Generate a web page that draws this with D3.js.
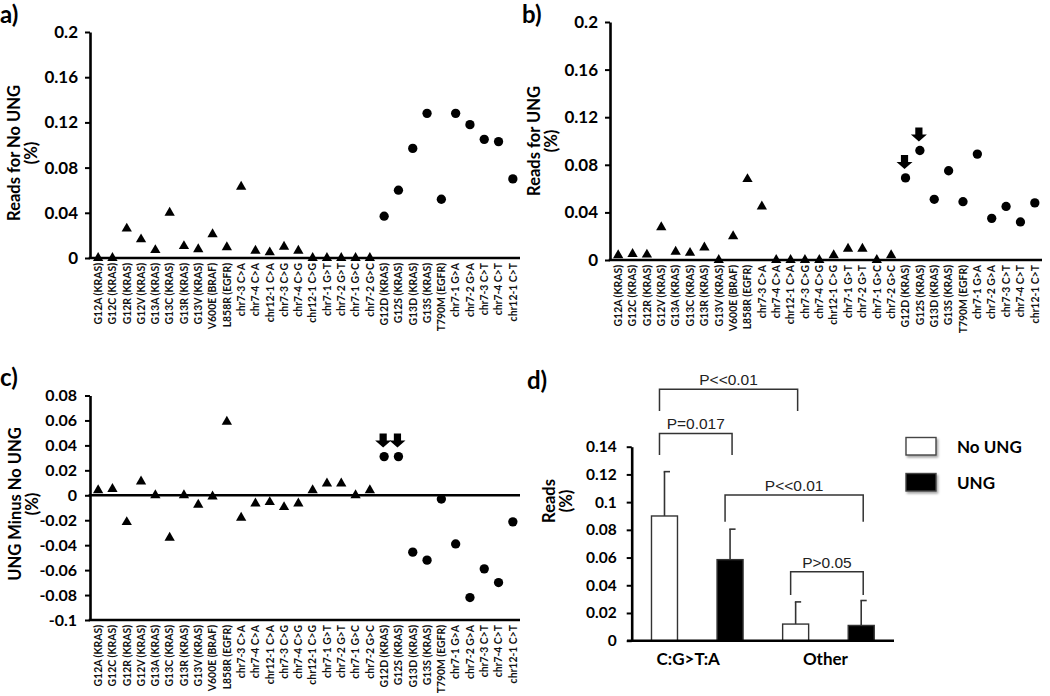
<!DOCTYPE html>
<html><head><meta charset="utf-8">
<script src="https://cdn.jsdelivr.net/npm/d3@7"></script>
<style>
body{margin:0;background:#fff;}
svg{display:block;}
</style></head><body>
<svg id="c" width="1050" height="696"></svg>
<script>
// ---------------- DATA ----------------
const categories = ["G12A (KRAS)","G12C (KRAS)","G12R (KRAS)","G12V (KRAS)","G13A (KRAS)","G13C (KRAS)","G13R (KRAS)","G13V (KRAS)","V600E (BRAF)","L858R (EGFR)","chr7-3 C>A","chr7-4 C>A","chr12-1 C>A","chr7-3 C>G","chr7-4 C>G","chr12-1 C>G","chr7-1 G>T","chr7-2 G>T","chr7-1 G>C","chr7-2 G>C","G12D (KRAS)","G12S (KRAS)","G13D (KRAS)","G13S (KRAS)","T790M (EGFR)","chr7-1 G>A","chr7-2 G>A","chr7-3 C>T","chr7-4 C>T","chr12-1 C>T"];
// C:G>T:A mutations (drawn as circles); all others drawn as triangles
const cgtaCategories = ["G12D (KRAS)","G12S (KRAS)","G13D (KRAS)","G13S (KRAS)","T790M (EGFR)","chr7-1 G>A","chr7-2 G>A","chr7-3 C>T","chr7-4 C>T","chr12-1 C>T"];
const arrowCategories = ["G12D (KRAS)","G12S (KRAS)"];

const readsNoUNG = [0,0,0.026,0.0165,0.007,0.040,0.0105,0.0078,0.021,0.0095,0.063,0.0065,0.005,0.010,0.0065,0,0,0,0,0,0.037,0.060,0.097,0.128,0.052,0.128,0.118,0.105,0.103,0.070];
const readsUNG   = [0.004,0.005,0.0045,0.0275,0.007,0.006,0.0105,0,0.020,0.068,0.045,0,0,0,0,0.004,0.0095,0.0095,0,0.004,0.069,0.092,0.051,0.075,0.049,0.089,0.035,0.045,0.032,0.048];
const readsDiff  = [0.004,0.005,-0.0215,0.011,0,-0.034,0,-0.0076,-0.001,0.059,-0.018,-0.0066,-0.0055,-0.0095,-0.0066,0.004,0.0095,0.0095,0,0.004,0.031,0.031,-0.0456,-0.052,-0.003,-0.039,-0.082,-0.059,-0.070,-0.0213];

const ticksAB = [0,0.04,0.08,0.12,0.16,0.2];
const ticksC  = [-0.1,-0.08,-0.06,-0.04,-0.02,0,0.02,0.04,0.06,0.08];
const ticksD  = [0,0.02,0.04,0.06,0.08,0.1,0.12,0.14];

const groupsD  = ["C:G>T:A","Other"];
const seriesD  = ["No UNG","UNG"];
const meanNoUNG = [0.090,0.012];
const sdNoUNG   = [0.032,0.016];
const meanUNG   = [0.0585,0.011];
const sdUNG     = [0.022,0.018];
const brackets = [
  {from:["C:G>T:A","No UNG"], to:["Other","No UNG"], top:0.1814, bottom:0.1657, label:"P<<0.01"},
  {from:["C:G>T:A","No UNG"], to:["C:G>T:A","UNG"], top:0.1496, bottom:0.134, label:"P=0.017"},
  {from:["C:G>T:A","UNG"], to:["Other","UNG"], top:0.1051, bottom:0.0859, label:"P<<0.01"},
  {from:["Other","No UNG"], to:["Other","UNG"], top:0.0498, bottom:0.033, label:"P>0.05"}
];

// ---------------- DRAW ----------------
const FONT = "Lato, 'Open Sans', sans-serif";
const svg = d3.select("#c");
const fmt = d => String(+d.toFixed(2));

function arrowPath(cx, tipY){
  const sh=3.6, shH=7, hw=8, hh=7;
  return `M${cx-sh},${tipY-hh-shH} L${cx+sh},${tipY-hh-shH} L${cx+sh},${tipY-hh} L${cx+hw},${tipY-hh} L${cx},${tipY} L${cx-hw},${tipY-hh} L${cx-sh},${tipY-hh} Z`;
}

function scatterPanel(o){
  const g = svg.append("g");
  const x = d3.scalePoint().domain(categories).range([o.x0+1, o.x1]).padding(0.5);
  const y = d3.scaleLinear().domain(o.domain).range([o.yBot, o.yTop]);
  const ya = d3.axisLeft(y).tickValues(o.ticks).tickSize(5).tickSizeOuter(0).tickPadding(o.pad).tickFormat(fmt);
  const yg = g.append("g").attr("transform",`translate(${o.x0},0)`).call(ya);
  yg.select(".domain").attr("stroke","#000").attr("stroke-width",2.6);
  yg.selectAll(".tick line").attr("stroke","#000").attr("stroke-width",2);
  yg.selectAll(".tick text").attr("font-size",o.fs).attr("font-weight","bold").attr("font-family",FONT).attr("fill","#000");
  // horizontal axis lines
  o.hLines.forEach(v=>{
    g.append("line").attr("x1",o.x0-1.3).attr("x2",o.x1).attr("y1",y(v)).attr("y2",y(v))
      .attr("stroke","#000").attr("stroke-width",2.6);
  });
  // category labels
  g.selectAll("text.cat").data(categories).join("text").attr("class","cat")
    .attr("transform",d=>`translate(${x(d)},${y(o.domain[0])+5}) rotate(-90)`)
    .attr("text-anchor","end").attr("dy","0.36em")
    .attr("font-family",FONT).attr("font-weight","bold").attr("font-size",10.4).attr("fill","#111")
    .text(d=>d);
  // markers
  const vals = o.values;
  g.selectAll("path.m").data(categories).join("path").attr("class","m")
    .attr("transform",(d,i)=>`translate(${x(d)},${y(vals[i])})`)
    .attr("d",d=> cgtaCategories.includes(d) ? d3.symbol(d3.symbolCircle,68)() : d3.symbol(d3.symbolTriangle,46)())
    .attr("fill","#000");
  // arrows
  if(o.arrows){
    g.selectAll("path.arr").data(arrowCategories).join("path").attr("class","arr")
      .attr("d",d=>arrowPath(x(d)-1, y(vals[categories.indexOf(d)])-9))
      .attr("fill","#000");
  }
  // title
  const t = g.append("text").attr("transform",`translate(${o.titleX},${o.titleY}) rotate(-90)`)
    .attr("text-anchor","middle").attr("font-family",FONT).attr("font-weight","bold").attr("font-size",16.5).attr("fill","#000");
  t.append("tspan").attr("x",0).attr("y",0).text(o.title);
  t.append("tspan").attr("x",0).attr("y",17).text("(%)");
  // panel label
  svg.append("text").attr("x",o.lx).attr("y",o.ly).attr("font-family",FONT).attr("font-weight","bold")
    .attr("font-size",24).text(o.label);
}

scatterPanel({x0:90, x1:520, yTop:32, yBot:258, domain:[0,0.2], ticks:ticksAB, values:readsNoUNG,
  fs:17, pad:7, hLines:[0], title:"Reads for No UNG", titleX:20, titleY:153, label:"a)", lx:0, ly:23});
scatterPanel({x0:610, x1:1042, yTop:22, yBot:260, domain:[0,0.2], ticks:ticksAB, values:readsUNG,
  fs:17, pad:7, hLines:[0], title:"Reads for UNG", titleX:540, titleY:141, label:"b)", lx:522, ly:23, arrows:true});
scatterPanel({x0:90, x1:520, yTop:395.5, yBot:620, domain:[-0.1,0.08], ticks:ticksC, values:readsDiff,
  fs:16, pad:8, hLines:[-0.1,0], title:"UNG Minus No UNG", titleX:21, titleY:504, label:"c)", lx:0, ly:386, arrows:true});

// ---------------- PANEL D ----------------
(function(){
  const g = svg.append("g");
  const x0 = 631.7, x1 = 894, yBot = 640.7, yTop = 446.7;
  const gx = d3.scaleBand().domain(groupsD).range([x0, x1]);
  const sx = d3.scalePoint().domain(seriesD).range([0, gx.bandwidth()]).padding(0.5);
  const y = d3.scaleLinear().domain([0,0.14]).range([yBot, yTop]);
  const bw = 26;
  const cx = (gname, sname) => gx(gname) + sx(sname);

  const yg = g.append("g").attr("transform",`translate(${x0},0)`)
    .call(d3.axisLeft(y).tickValues(ticksD).tickSize(5).tickSizeOuter(0).tickPadding(10).tickFormat(fmt));
  yg.select(".domain").attr("stroke","#000").attr("stroke-width",2.6);
  yg.selectAll(".tick line").attr("stroke","#000").attr("stroke-width",2);
  yg.selectAll(".tick text").attr("font-size",15.5).attr("font-weight","bold").attr("font-family",FONT).attr("fill","#000");

  const bars = [];
  groupsD.forEach((gn,i)=>{
    bars.push({g:gn, s:"No UNG", v:meanNoUNG[i], e:sdNoUNG[i]});
    bars.push({g:gn, s:"UNG", v:meanUNG[i], e:sdUNG[i]});
  });
  // error bars (upper only)
  bars.forEach(b=>{
    const c = cx(b.g,b.s);
    g.append("line").attr("x1",c).attr("x2",c).attr("y1",y(b.v)).attr("y2",y(b.v+b.e)).attr("stroke","#333").attr("stroke-width",1.6);
    g.append("line").attr("x1",c-0.8).attr("x2",c+5.5).attr("y1",y(b.v+b.e)).attr("y2",y(b.v+b.e)).attr("stroke","#333").attr("stroke-width",1.6);
  });
  g.selectAll("rect.bar").data(bars).join("rect").attr("class","bar")
    .attr("x",d=>cx(d.g,d.s)-bw/2).attr("width",bw)
    .attr("y",d=>y(d.v)).attr("height",d=>yBot-y(d.v))
    .attr("fill",d=>d.s==="UNG"?"#000":"#fff").attr("stroke","#333").attr("stroke-width",1.4);

  // x axis line
  g.append("line").attr("x1",627).attr("x2",x1).attr("y1",yBot).attr("y2",yBot).attr("stroke","#000").attr("stroke-width",2.6);
  // group labels
  g.selectAll("text.grp").data(groupsD).join("text").attr("class","grp")
    .attr("x",d=>gx(d)+gx.bandwidth()/2 - (d==="C:G>T:A"?9:3)).attr("y",665)
    .attr("text-anchor","middle").attr("font-family",FONT).attr("font-weight","bold").attr("font-size",17).text(d=>d);

  // brackets
  brackets.forEach(b=>{
    const xa = cx(b.from[0],b.from[1]) - 5, xb = cx(b.to[0],b.to[1]) + 2;
    g.append("path").attr("d",`M${xa},${y(b.bottom)} V${y(b.top)} H${xb} V${y(b.bottom)}`)
      .attr("fill","none").attr("stroke","#333").attr("stroke-width",1.5);
    g.append("text").attr("x",(xa+xb)/2).attr("y",y(b.top)-4).attr("text-anchor","middle")
      .attr("font-family","'Liberation Sans', Arial, sans-serif").attr("font-size",15.5).attr("fill","#222").text(b.label);
  });

  // y title
  const t = g.append("text").attr("transform",`translate(555,501) rotate(-90)`)
    .attr("text-anchor","middle").attr("font-family",FONT).attr("font-weight","bold").attr("font-size",16.5);
  t.append("tspan").attr("x",0).attr("y",0).text("Reads");
  t.append("tspan").attr("x",0).attr("y",17).text("(%)");

  // legend
  const defs = svg.append("defs");
  const f = defs.append("filter").attr("id","sh").attr("x","-20%").attr("y","-20%").attr("width","150%").attr("height","160%");
  f.append("feDropShadow").attr("dx",1.5).attr("dy",2).attr("stdDeviation",1.2).attr("flood-color","#000").attr("flood-opacity",0.35);
  const lg = g.selectAll("g.leg").data(seriesD).join("g").attr("class","leg")
    .attr("transform",(d,i)=>`translate(906,${437.5+i*36})`);
  lg.append("rect").attr("width",30).attr("height",17.5)
    .attr("fill",d=>d==="UNG"?"#000":"#fff").attr("stroke","#444").attr("stroke-width",1.4).attr("filter","url(#sh)");
  lg.append("text").attr("x",51).attr("y",15).attr("font-family",FONT).attr("font-weight","bold").attr("font-size",17).text(d=>d);

  svg.append("text").attr("x",527).attr("y",389).attr("font-family",FONT).attr("font-weight","bold").attr("font-size",24).text("d)");
})();
</script>
</body></html>
